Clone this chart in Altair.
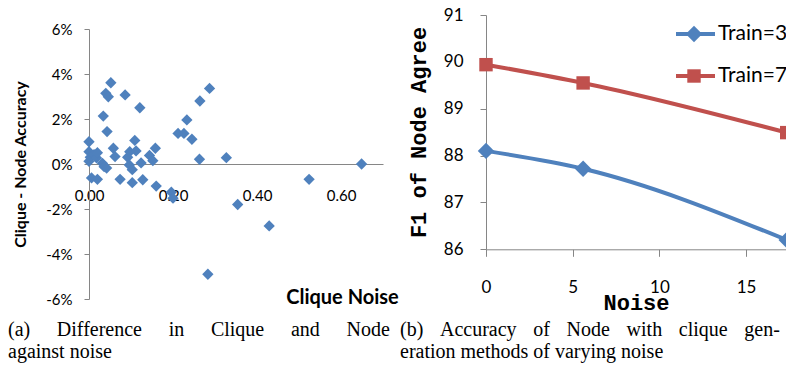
import altair as alt
import pandas as pd

# ---------------- data ----------------
# (a) scatter: clique noise vs (clique - node accuracy) in percent
clique_noise = [0.000, 0.000, 0.003, 0.000, 0.012, 0.018, 0.020, 0.032, 0.036, 0.042,
                0.006, 0.020, 0.034, 0.040, 0.046, 0.052, 0.043, 0.058, 0.062, 0.074,
                0.086, 0.092, 0.096, 0.103, 0.097, 0.103, 0.109, 0.112, 0.121, 0.124,
                0.128, 0.144, 0.152, 0.158, 0.160, 0.196, 0.200, 0.212, 0.226, 0.233,
                0.245, 0.263, 0.264, 0.287, 0.327, 0.283, 0.354, 0.429, 0.524, 0.649]
acc_diff_pct = [0.99, 0.55, 0.30, 0.12, 0.42, 0.27, 0.50, 0.03, -0.12, -0.18,
                -0.62, -0.68, 2.13, 3.14, 2.99, 3.61, 1.44, 0.70, 0.33, -0.68,
                3.07, 0.30, -0.04, -0.25, 0.55, -0.83, 1.05, 0.58, 2.50, 0.05,
                -0.70, 0.38, 0.15, 0.70, -0.98, -1.25, -1.52, 1.36, 1.36, 1.96,
                1.10, 0.21, 2.80, 3.36, 0.28, -4.90, -1.80, -2.75, -0.68, 0.00]

# (b) lines
noise = [0, 5.6, 17.34]
train3 = [88.10, 87.72, 86.20]
train7 = [89.94, 89.55, 88.49]
series_names = ["Train=3", "Train=7"]

left_x_ticks = [0.0, 0.2, 0.4, 0.6]
left_y_ticks = [-6, -4, -2, 0, 2, 4, 6]
right_x_ticks = [0, 5, 10, 15]
right_y_ticks = [86, 87, 88, 89, 90, 91]

caption_a = ["(a) Difference in Clique and Node", "against noise"]
caption_b = ["(b) Accuracy of Node with clique gen-", "eration methods of varying noise"]

# ---------------- style ----------------
W, H = 778, 356
BLUE, RED = "#4F81BD", "#C0504D"
GREY = "#868686"
SANS = "Lato"
MONO = "Liberation Mono"
SERIF = "Liberation Serif"

scatter_df = pd.DataFrame({"noise": clique_noise, "diff": acc_diff_pct})
rows = []
for s, vals in zip(series_names, [train3, train7]):
    for n, v in zip(noise, vals):
        rows.append({"noise": n, "f1": v, "series": s})
right_df = pd.DataFrame(rows)
legend_df = pd.DataFrame({"series": series_names})

color = alt.Color("series:N", scale=alt.Scale(domain=series_names, range=[BLUE, RED]), legend=None)
shape = alt.Shape("series:N", scale=alt.Scale(domain=series_names, range=["diamond", "square"]), legend=None)
size = alt.Size("series:N", scale=alt.Scale(domain=series_names, range=[270, 180]), legend=None)

axis_common = dict(grid=False, domainColor=GREY, tickColor=GREY, labelColor="#000",
                   titleColor="#000", labelFlush=False, labelOverlap=False)

# ---- left panel ----
left_x = alt.X("noise:Q",
               scale=alt.Scale(domain=[0, 0.7], range=[81, 375], nice=False, zero=False),
               axis=alt.Axis(orient="bottom", offset=156 - H, values=left_x_ticks, format=".2f",
                             ticks=False, tickSize=0, labelPadding=31, labelBaseline="middle",
                             labelFont=SANS, labelFontSize=15,
                             title="Clique Noise", titleFont=SANS, titleFontSize=20, titleFontWeight="bold",
                             titleX=334, titleY=133, titleAlign="center", titleBaseline="middle",
                             **axis_common))
left_y = alt.Y("diff:Q",
               scale=alt.Scale(domain=[-6, 6], range=[291, 21], nice=False, zero=False),
               axis=alt.Axis(orient="left", offset=-81, values=left_y_ticks,
                             labelExpr="datum.value + '%'", tickSize=5, labelPadding=12,
                             labelFont=SANS, labelFontSize=15,
                             title="Clique - Node Accuracy", titleFont=SANS, titleFontSize=16,
                             titleFontWeight="bold", titleAngle=270, titleX=-69, titleY=156,
                             titleAlign="center", titleBaseline="middle", **axis_common))
left = alt.Chart(scatter_df).mark_point(filled=True, shape="diamond", size=128, opacity=1,
                                         color=BLUE).encode(x=left_x, y=left_y)

# ---- right panel ----
right_x = alt.X("noise:Q",
                scale=alt.Scale(domain=[0, 17.34], range=[478, 778.7], nice=False, zero=False),
                axis=alt.Axis(orient="bottom", offset=241.3 - H, values=right_x_ticks,
                              tickSize=7, labelPadding=31, labelBaseline="middle",
                              labelFont=SANS, labelFontSize=17,
                              title="Noise", titleFont=MONO, titleFontSize=22, titleFontWeight="bold",
                              titleX=628, titleY=53, titleAlign="center", titleBaseline="middle",
                              **axis_common))
right_y = alt.Y("f1:Q",
                scale=alt.Scale(domain=[86, 91], range=[241.3, 7], nice=False, zero=False),
                axis=alt.Axis(orient="left", offset=-478, values=right_y_ticks,
                              tickSize=6, labelPadding=17, labelFont=SANS, labelFontSize=17,
                              title="F1 of Node Agree", titleFont=MONO, titleFontSize=22,
                              titleFontWeight="bold", titleAngle=270, titleX=-68, titleY=124,
                              titleAlign="center", titleBaseline="middle", **axis_common))
lines = alt.Chart(right_df).mark_line(strokeWidth=4, interpolate="monotone").encode(
    x=right_x, y=right_y, color=color, detail="series:N")
pts = alt.Chart(right_df).mark_point(filled=True, opacity=1).encode(
    x=right_x, y=right_y, color=color, shape=shape, size=size)
right = alt.layer(lines, pts)

# ---- legend ----
leg_y = alt.Y("series:N", scale=alt.Scale(type="point", domain=series_names, range=[26, 68], padding=0),
              axis=None)
leg_line = alt.Chart(legend_df).mark_rule(strokeWidth=4).encode(
    x=alt.value(668), x2=alt.value(707), y=leg_y, color=color)
leg_pts = alt.Chart(legend_df).mark_point(filled=True, opacity=1).encode(
    x=alt.value(686), y=leg_y, color=color, shape=shape, size=size)
leg_txt = alt.Chart(legend_df).mark_text(align="left", baseline="middle", font=SANS, fontSize=21,
                                         color="#000").encode(x=alt.value(710), y=leg_y, text="series:N")
legend = alt.layer(leg_line, leg_pts, leg_txt)

# ---- captions ----
def justify(line, gap):
    return line.replace(" ", " " + gap)

cap_a_df = pd.DataFrame({"text": [justify(caption_a[0], "\u00a0" * 4 + "\u200a") + "\n" + caption_a[1]]})
cap_b_df = pd.DataFrame({"text": [justify(caption_b[0], "\u00a0" * 2 + "\u200a") + "\n" + caption_b[1]]})
cap_style = dict(align="left", baseline="alphabetic", font=SERIF, fontSize=20, lineBreak="\n",
                 lineHeight=22, color="#000")
cap_a = alt.Chart(cap_a_df).mark_text(**cap_style).encode(x=alt.value(0), y=alt.value(328), text="text:N")
cap_b = alt.Chart(cap_b_df).mark_text(**cap_style).encode(x=alt.value(392), y=alt.value(328), text="text:N")

chart = alt.layer(left, right, legend, cap_a, cap_b).resolve_scale(
    x="independent", y="independent"
).properties(
    width=W, height=H, padding=0, autosize=alt.AutoSizeParams(type="none")
).configure_view(stroke=None)

chart.save("out.html", embed_options={"renderer": "svg", "actions": False})
